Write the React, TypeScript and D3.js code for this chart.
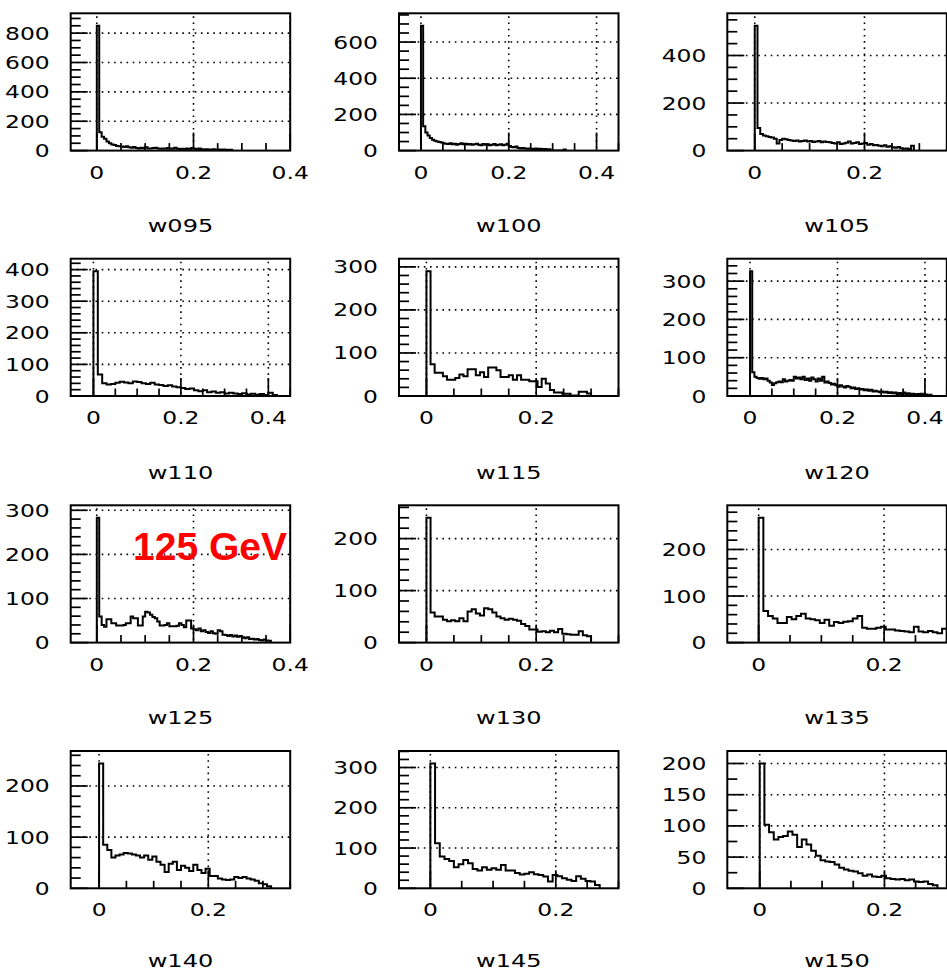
import React from "react";
import * as d3 from "d3";

// ---------- data ----------
const titles = ["w095", "w100", "w105", "w110", "w115", "w120", "w125", "w130", "w135", "w140", "w145", "w150"];
const binWidths = [0.005, 0.005, 0.005, 0.01, 0.0075, 0.005, 0.005, 0.0075, 0.0075, 0.0075, 0.0075, 0.0075];
const xMins = [-0.054, -0.05, -0.05, -0.052, -0.05, -0.052, -0.054, -0.05, -0.05, -0.052, -0.05, -0.052];
const xMaxs = [0.4, 0.45, 0.35, 0.45, 0.35, 0.45, 0.4, 0.35, 0.3, 0.35, 0.3, 0.3];
const yMajorSteps = [200, 200, 200, 100, 100, 100, 100, 100, 100, 100, 100, 50];
const yMinorSteps = [50, 50, 50, 20, 20, 20, 20, 20, 20, 20, 20, 25];
const xMajorStep = 0.2;
const xMinorStep = 0.05;

const c095 = [850, 125, 95, 80, 62, 50, 42, 38, 32, 30, 28, 25, 30, 22, 20, 24, 18, 15, 20, 16, 22, 15, 14, 18, 20, 14, 12, 15, 13, 18, 14, 12, 20, 12, 10, 12, 10, 14, 11, 18, 12, 10, 15, 10, 8, 10, 8, 7, 9, 6, 8, 6, 7, 5, 6, 5];
const c100 = [690, 135, 100, 84, 70, 60, 55, 50, 47, 45, 40, 38, 36, 40, 35, 38, 33, 36, 40, 35, 38, 34, 36, 32, 35, 38, 33, 30, 36, 33, 35, 30, 33, 36, 30, 32, 35, 30, 33, 38, 25, 20, 18, 22, 15, 12, 14, 12, 10, 12, 10, 9, 11, 8, 10, 8, 9, 7, 8, 0, 0, 0, 0, 0, 0, 6];
const c105 = [525, 95, 70, 64, 60, 57, 55, 50, 30, 45, 50, 48, 45, 42, 40, 42, 38, 40, 42, 38, 40, 36, 38, 40, 35, 38, 36, 35, 32, 30, 35, 28, 30, 33, 38, 30, 32, 35, 28, 30, 32, 25, 28, 22, 24, 20, 18, 22, 16, 18, 14, 12, 15, 10, 8, 9, 7, 20];
const c110 = [395, 68, 40, 36, 38, 42, 45, 43, 40, 46, 44, 40, 38, 42, 36, 35, 32, 34, 30, 28, 25, 22, 24, 18, 15, 18, 12, 14, 10, 12, 8, 10, 8, 6, 9, 5, 7, 4, 6, 3, 10, 3];
const c115 = [290, 74, 54, 54, 46, 38, 38, 42, 50, 46, 62, 62, 48, 55, 44, 66, 66, 60, 44, 44, 48, 38, 48, 38, 38, 34, 34, 21, 40, 29, 14, 8, 8, 5, 5, 1, 1, 10, 10, 6];
const c120 = [326, 62, 50, 47, 45, 47, 44, 46, 40, 35, 29, 33, 36, 38, 36, 44, 38, 40, 42, 40, 50, 46, 48, 44, 50, 42, 46, 40, 48, 44, 38, 46, 40, 50, 35, 38, 34, 30, 32, 28, 24, 28, 25, 22, 26, 24, 20, 22, 18, 20, 17, 18, 15, 17, 14, 16, 12, 14, 12, 10, 12, 9, 11, 8, 10, 7, 9, 5, 8, 4, 9, 5, 7, 4, 6, 3, 5, 4, 6, 3, 4, 2, 3];
const c125 = [283, 59, 40, 36, 53, 53, 44, 44, 39, 39, 39, 40, 44, 44, 59, 55, 55, 39, 39, 59, 70, 68, 63, 58, 55, 48, 39, 39, 40, 44, 37, 37, 37, 38, 44, 40, 35, 50, 50, 32, 30, 28, 32, 26, 28, 24, 22, 26, 21, 20, 28, 26, 18, 17, 15, 17, 14, 16, 13, 15, 12, 10, 12, 8, 9, 7, 8, 6, 5, 7, 5, 4];
const c130 = [240, 58, 50, 50, 44, 41, 43, 41, 47, 41, 60, 64, 56, 52, 66, 64, 58, 50, 47, 44, 46, 44, 42, 36, 32, 25, 25, 21, 22, 20, 23, 20, 26, 17, 16, 15, 15, 22, 14, 12];
const c135 = [268, 68, 57, 52, 42, 42, 55, 50, 57, 62, 52, 50, 48, 42, 49, 36, 44, 42, 45, 46, 52, 57, 32, 30, 30, 32, 34, 28, 28, 26, 25, 24, 22, 34, 24, 22, 25, 22, 20, 30];
const c140 = [244, 85, 75, 60, 64, 66, 69, 68, 66, 64, 60, 64, 56, 62, 52, 46, 32, 48, 52, 36, 44, 40, 34, 46, 36, 30, 38, 24, 24, 19, 17, 16, 17, 22, 20, 22, 19, 17, 15, 10, 8, 4];
const c145 = [310, 112, 79, 73, 68, 52, 60, 70, 62, 48, 44, 52, 46, 50, 46, 58, 44, 44, 38, 34, 36, 40, 35, 33, 29, 17, 33, 30, 25, 21, 18, 30, 24, 18, 17, 8];
const c150 = [200, 102, 90, 78, 82, 84, 91, 86, 66, 78, 70, 60, 52, 45, 43, 42, 38, 33, 30, 28, 27, 24, 20, 22, 19, 18, 20, 16, 15, 14, 15, 13, 14, 11, 10, 11, 7, 5];
const allCounts = [c095, c100, c105, c110, c115, c120, c125, c130, c135, c140, c145, c150];

const annotation = "125 GeV";
const annotatedPanel = 6;

// ---------- layout ----------
const W = 947;
const H = 971;
const colLefts = [70.7, 399, 727.3];
const rowTops = [13.3, 258.7, 505.3, 751];
const titleOffsets = [81.5, 83, 81, 79];
const frameW = 219.5;
const frameH = 137.3;
const FONT = "'DejaVu Sans', Verdana, sans-serif";
const SX = 1.3;

function Label({ x, y, text, anchor, size = 18 }: { x: number; y: number; text: string; anchor: string; size?: number }) {
  return (
    <text
      transform={`translate(${x},${y}) scale(${SX},1)`}
      textAnchor={anchor as any}
      fontFamily={FONT}
      fontSize={size}
      fill="#000"
    >
      {text}
    </text>
  );
}

function Panel({ idx }: { idx: number }) {
  const row = Math.floor(idx / 3);
  const left = colLefts[idx % 3];
  const top = rowTops[row];
  const right = left + frameW;
  const bottom = top + frameH;
  const counts = allCounts[idx];
  const bw = binWidths[idx];
  const ymax = 1.1 * (d3.max(counts) as number);
  const x = d3.scaleLinear().domain([xMins[idx], xMaxs[idx]]).range([left, right]);
  const y = d3.scaleLinear().domain([0, ymax]).range([bottom, top]);

  const eps = 1e-6;
  const xMajor = d3.range(0, xMaxs[idx] + 0.002, xMajorStep);
  const xMinor = d3.range(0, xMaxs[idx] + eps, xMinorStep);
  const yMaj = d3.range(0, ymax + eps, yMajorSteps[idx]);
  const yMin = d3.range(0, ymax + eps, yMinorSteps[idx]);

  const p = d3.path();
  p.moveTo(x(0), y(0));
  counts.forEach((c, i) => {
    p.lineTo(x(i * bw), y(c));
    p.lineTo(x((i + 1) * bw), y(c));
  });
  p.lineTo(x(counts.length * bw), y(0));

  const clipId = `clip${idx}`;
  const dots = "1.6 4.6";
  const fmt = (v: number) => (Math.abs(v) < 1e-9 ? "0" : d3.format(".1f")(v));

  return (
    <g>
      <defs>
        <clipPath id={clipId}>
          <rect x={left} y={top} width={frameW} height={frameH} />
        </clipPath>
      </defs>
      {/* grid */}
      <g stroke="#000" strokeWidth={1.6} strokeDasharray={dots} clipPath={`url(#${clipId})`}>
        {xMajor.map((v) => (
          <line key={`gx${v}`} x1={x(v)} x2={x(v)} y1={top + 3} y2={bottom} />
        ))}
        {yMaj.filter((v) => v > 0).map((v) => (
          <line key={`gy${v}`} x1={left} x2={right} y1={y(v)} y2={y(v)} />
        ))}
      </g>
      {/* ticks */}
      <g stroke="#000" strokeWidth={1.7}>
        {yMin.map((v) => {
          const major = Math.abs(v / yMajorSteps[idx] - Math.round(v / yMajorSteps[idx])) < 1e-6;
          return <line key={`ty${v}`} x1={left} x2={left + (major ? 17 : 10)} y1={y(v)} y2={y(v)} />;
        })}
        {xMinor.map((v) => {
          const major = Math.abs(v / xMajorStep - Math.round(v / xMajorStep)) < 1e-6;
          return <line key={`tx${v}`} x1={x(v)} x2={x(v)} y1={bottom} y2={bottom - (major ? 18 : 7.5)} />;
        })}
      </g>
      {/* histogram */}
      <path d={p.toString()} fill="none" stroke="#000" strokeWidth={2} clipPath={`url(#${clipId})`} />
      {/* frame */}
      <rect x={left} y={top} width={frameW} height={frameH} fill="none" stroke="#000" strokeWidth={2} />
      {/* labels */}
      {yMaj.map((v) => (
        <Label key={`ly${v}`} x={left - 21} y={y(v) + 6.5} text={String(v)} anchor="end" />
      ))}
      {xMajor.map((v) => (
        <Label key={`lx${v}`} x={x(v)} y={bottom + 28} text={fmt(v)} anchor="middle" />
      ))}
      <Label x={(left + right) / 2} y={bottom + titleOffsets[row]} text={titles[idx]} anchor="middle" size={18.5} />
      {idx === annotatedPanel && (
        <text x={133} y={560} fontFamily="'Liberation Sans', Arial, sans-serif" fontWeight="bold" fontSize={39} fill="#ff0000">
          {annotation}
        </text>
      )}
    </g>
  );
}

export default function App() {
  return (
    <svg
      width={W}
      height={H}
      viewBox={`0 0 ${W} ${H}`}
      style={{ position: "absolute", left: 0, top: 0, background: "#fff" }}
    >
      <rect x={0} y={0} width={W} height={H} fill="#fff" />
      {titles.map((t, i) => (
        <Panel key={t} idx={i} />
      ))}
    </svg>
  );
}
